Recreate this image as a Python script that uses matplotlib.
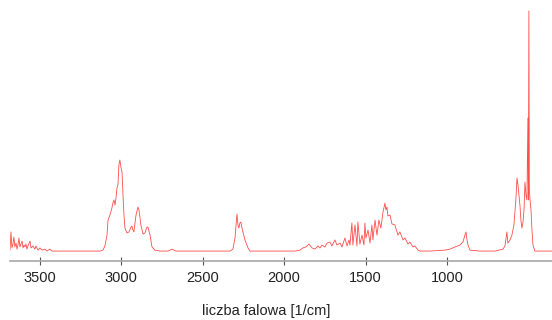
import matplotlib
matplotlib.use('Agg')
import matplotlib.pyplot as plt

# Widmo IR (liczba falowa [1/cm], absorbancja w jednostkach wzglednych)
wavenumber = [
    3684, 3678, 3672, 3666, 3660, 3654, 3647, 3641, 3635, 3629, 3623, 3617, 3610, 3604,
    3598, 3592, 3586, 3580, 3574, 3561, 3555, 3543, 3531, 3525, 3512, 3500, 3488, 3469,
    3457, 3439, 3426, 3377, 3254, 3131, 3113,
    3101, 3088, 3082, 3070, 3058, 3052, 3045, 3039, 3033, 3027, 3021, 3015, 3009, 3002,
    2996, 2990, 2984, 2978, 2966, 2953, 2941, 2935, 2929, 2923, 2910, 2898, 2892, 2880,
    2867, 2855, 2843, 2837, 2824, 2812, 2794, 2763, 2714, 2689, 2665, 2517, 2333,
    2315, 2302, 2290, 2284, 2278, 2272, 2266, 2259, 2253, 2241, 2222, 2210, 2026,
    1934, 1903, 1885, 1866, 1848, 1829, 1811, 1793, 1780, 1768, 1750, 1737, 1719, 1707,
    1688, 1676, 1657, 1645, 1627, 1614, 1602, 1596, 1584, 1578, 1565, 1553, 1547, 1535,
    1522, 1510, 1504, 1498, 1485, 1473, 1461, 1455, 1442, 1430, 1418, 1406, 1393, 1381,
    1375, 1369, 1363, 1350, 1338, 1320, 1301, 1289, 1270, 1258, 1240, 1227, 1209, 1197,
    1178, 1166, 1105, 1012, 982, 951, 920, 902, 890, 883, 877, 871, 859, 798, 705,
    656, 644, 632, 626, 613, 601, 589, 577, 570, 564, 558, 552, 546, 540, 533, 527,
    521, 515, 509, 503, 500, 497, 494, 490, 484, 478, 472, 460, 429, 355,
]
absorbance = [
    0.008, 0.083, 0.017, 0.033, 0.062, 0.021, 0.037, 0.012, 0.029, 0.058, 0.021, 0.033, 0.045, 0.017,
    0.029, 0.021, 0.033, 0.012, 0.025, 0.045, 0.017, 0.025, 0.012, 0.025, 0.008, 0.017, 0.008, 0.012,
    0.004, 0.012, 0.004, 0.004, 0.004, 0.004, 0.008,
    0.025, 0.070, 0.132, 0.153, 0.182, 0.202, 0.215, 0.194, 0.223, 0.264, 0.277, 0.360, 0.380, 0.347,
    0.331, 0.236, 0.153, 0.099, 0.079, 0.083, 0.103, 0.107, 0.091, 0.083, 0.153, 0.186, 0.174, 0.112,
    0.074, 0.079, 0.103, 0.103, 0.070, 0.021, 0.008, 0.004, 0.004, 0.012, 0.004, 0.004, 0.004,
    0.012, 0.058, 0.157, 0.112, 0.099, 0.120, 0.124, 0.099, 0.083, 0.050, 0.017, 0.004, 0.004,
    0.004, 0.008, 0.017, 0.021, 0.033, 0.017, 0.012, 0.025, 0.017, 0.029, 0.021, 0.037, 0.041, 0.025,
    0.050, 0.029, 0.037, 0.021, 0.058, 0.025, 0.050, 0.029, 0.120, 0.029, 0.112, 0.025, 0.124, 0.033,
    0.070, 0.029, 0.120, 0.058, 0.091, 0.037, 0.112, 0.050, 0.132, 0.070, 0.132, 0.099, 0.165, 0.202,
    0.174, 0.186, 0.149, 0.153, 0.116, 0.112, 0.070, 0.083, 0.050, 0.058, 0.033, 0.041, 0.021, 0.025,
    0.008, 0.004, 0.004, 0.008, 0.012, 0.021, 0.029, 0.041, 0.070, 0.083, 0.050, 0.029, 0.008, 0.004, 0.004,
    0.012, 0.025, 0.083, 0.037, 0.050, 0.070, 0.112, 0.215, 0.306, 0.277, 0.236, 0.194, 0.132, 0.099, 0.124, 0.174,
    0.289, 0.236, 0.215, 0.554, 0.215, 0.996, 0.256, 0.215, 0.174, 0.091, 0.029, 0.004, 0.004, 0.004,
]
xticks = [3500, 3000, 2500, 2000, 1500, 1000]

plt.rcParams['font.family'] = ['Liberation Sans', 'DejaVu Sans']

fig = plt.figure(figsize=(5.52, 3.2), dpi=100)
ax = fig.add_axes([10 / 552, 59 / 320, 542 / 552, 261 / 320])

ax.plot(wavenumber, absorbance, color='#ff2020', lw=0.6, alpha=0.8)

ax.set_xlim(3684, 355)
ax.set_ylim(-0.037, 1.041)
ax.set_xticks(xticks)
ax.set_yticks([])

for side in ['left', 'right', 'top']:
    ax.spines[side].set_visible(False)
ax.spines['bottom'].set_color('#a8a8a8')
ax.spines['bottom'].set_linewidth(1.2)
ax.tick_params(axis='x', direction='inout', length=6, width=0.8, color='#555555',
               labelsize=10.5, labelcolor='#222222', pad=4)

ax.set_xlabel('liczba falowa [1/cm]', fontsize=10.5, color='#222222')
ax.xaxis.set_label_coords(256 / 542, -43 / 261)

fig.savefig('out.png', dpi=100)
